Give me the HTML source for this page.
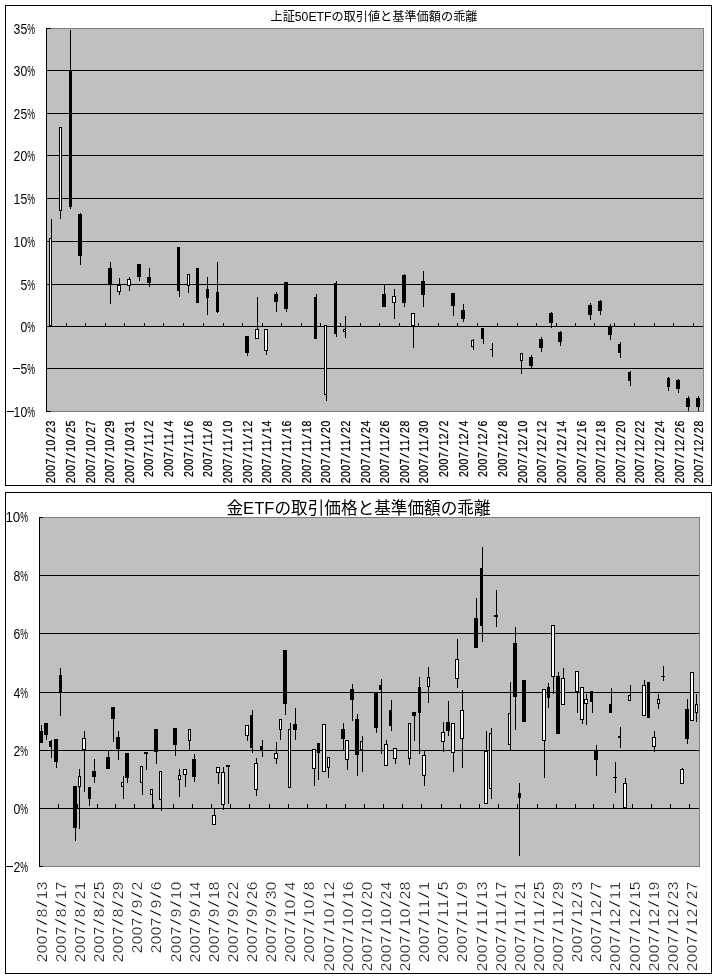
<!DOCTYPE html>
<html lang="ja"><head><meta charset="utf-8"><title>ETF charts</title>
<style>
html,body{margin:0;padding:0;background:#fff;}
body{width:717px;height:978px;overflow:hidden;font-family:"Liberation Sans",sans-serif;}
svg{display:block;}
svg text{font-family:"Liberation Sans",sans-serif;fill:#000;}
</style></head><body>
<svg width="717" height="978" viewBox="0 0 717 978">
<g shape-rendering="crispEdges">
<rect x="5" y="5" width="707" height="481" fill="#000"/>
<rect x="6" y="6" width="705" height="479" fill="#fff"/>
<rect x="46" y="28" width="658" height="384" fill="#808080"/>
<rect x="47" y="29" width="656" height="382" fill="#c0c0c0"/>
<rect x="46" y="70" width="657" height="1" fill="#000"/>
<rect x="46" y="113" width="657" height="1" fill="#000"/>
<rect x="46" y="155" width="657" height="1" fill="#000"/>
<rect x="46" y="198" width="657" height="1" fill="#000"/>
<rect x="46" y="241" width="657" height="1" fill="#000"/>
<rect x="46" y="284" width="657" height="1" fill="#000"/>
<rect x="46" y="326" width="657" height="1" fill="#000"/>
<rect x="46" y="368" width="657" height="1" fill="#000"/>
<rect x="46" y="28" width="1" height="384" fill="#000"/>
<rect x="46" y="28" width="5" height="1" fill="#000"/>
<rect x="46" y="411" width="5" height="1" fill="#000"/>
<rect x="66" y="323" width="1" height="3" fill="#000"/>
<rect x="85" y="323" width="1" height="3" fill="#000"/>
<rect x="105" y="323" width="1" height="3" fill="#000"/>
<rect x="124" y="323" width="1" height="3" fill="#000"/>
<rect x="144" y="323" width="1" height="3" fill="#000"/>
<rect x="163" y="323" width="1" height="3" fill="#000"/>
<rect x="183" y="323" width="1" height="3" fill="#000"/>
<rect x="203" y="323" width="1" height="3" fill="#000"/>
<rect x="223" y="323" width="1" height="3" fill="#000"/>
<rect x="242" y="323" width="1" height="3" fill="#000"/>
<rect x="262" y="323" width="1" height="3" fill="#000"/>
<rect x="281" y="323" width="1" height="3" fill="#000"/>
<rect x="301" y="323" width="1" height="3" fill="#000"/>
<rect x="320" y="323" width="1" height="3" fill="#000"/>
<rect x="340" y="323" width="1" height="3" fill="#000"/>
<rect x="360" y="323" width="1" height="3" fill="#000"/>
<rect x="379" y="323" width="1" height="3" fill="#000"/>
<rect x="399" y="323" width="1" height="3" fill="#000"/>
<rect x="418" y="323" width="1" height="3" fill="#000"/>
<rect x="438" y="323" width="1" height="3" fill="#000"/>
<rect x="457" y="323" width="1" height="3" fill="#000"/>
<rect x="477" y="323" width="1" height="3" fill="#000"/>
<rect x="497" y="323" width="1" height="3" fill="#000"/>
<rect x="517" y="323" width="1" height="3" fill="#000"/>
<rect x="536" y="323" width="1" height="3" fill="#000"/>
<rect x="556" y="323" width="1" height="3" fill="#000"/>
<rect x="575" y="323" width="1" height="3" fill="#000"/>
<rect x="594" y="323" width="1" height="3" fill="#000"/>
<rect x="614" y="323" width="1" height="3" fill="#000"/>
<rect x="634" y="323" width="1" height="3" fill="#000"/>
<rect x="654" y="323" width="1" height="3" fill="#000"/>
<rect x="673" y="323" width="1" height="3" fill="#000"/>
<rect x="693" y="323" width="1" height="3" fill="#000"/>
<rect x="51" y="219" width="1" height="107" fill="#000"/>
<rect x="49" y="238" width="3" height="88" fill="#000"/>
<rect x="50" y="239" width="1" height="86" fill="#fff"/>
<rect x="60" y="127" width="1" height="92" fill="#000"/>
<rect x="59" y="127" width="3" height="84" fill="#000"/>
<rect x="60" y="128" width="1" height="82" fill="#fff"/>
<rect x="70" y="30" width="1" height="179" fill="#000"/>
<rect x="69" y="70" width="3" height="137" fill="#000"/>
<rect x="80" y="213" width="1" height="52" fill="#000"/>
<rect x="78" y="214" width="4" height="42" fill="#000"/>
<rect x="110" y="262" width="1" height="42" fill="#000"/>
<rect x="108" y="268" width="4" height="16" fill="#000"/>
<rect x="119" y="278" width="1" height="17" fill="#000"/>
<rect x="117" y="285" width="4" height="7" fill="#000"/>
<rect x="118" y="286" width="2" height="5" fill="#fff"/>
<rect x="129" y="277" width="1" height="14" fill="#000"/>
<rect x="127" y="279" width="4" height="7" fill="#000"/>
<rect x="128" y="280" width="2" height="5" fill="#fff"/>
<rect x="139" y="264" width="1" height="17" fill="#000"/>
<rect x="137" y="264" width="4" height="13" fill="#000"/>
<rect x="149" y="268" width="1" height="19" fill="#000"/>
<rect x="147" y="277" width="4" height="6" fill="#000"/>
<rect x="179" y="247" width="1" height="50" fill="#000"/>
<rect x="177" y="247" width="3" height="44" fill="#000"/>
<rect x="188" y="274" width="1" height="19" fill="#000"/>
<rect x="187" y="274" width="3" height="12" fill="#000"/>
<rect x="188" y="275" width="1" height="10" fill="#fff"/>
<rect x="197" y="268" width="1" height="35" fill="#000"/>
<rect x="196" y="268" width="3" height="35" fill="#000"/>
<rect x="207" y="277" width="1" height="38" fill="#000"/>
<rect x="206" y="289" width="3" height="9" fill="#000"/>
<rect x="217" y="262" width="1" height="51" fill="#000"/>
<rect x="216" y="292" width="3" height="20" fill="#000"/>
<rect x="247" y="336" width="1" height="20" fill="#000"/>
<rect x="245" y="336" width="4" height="17" fill="#000"/>
<rect x="257" y="297" width="1" height="41" fill="#000"/>
<rect x="255" y="329" width="4" height="10" fill="#000"/>
<rect x="256" y="330" width="2" height="8" fill="#fff"/>
<rect x="266" y="329" width="1" height="26" fill="#000"/>
<rect x="264" y="329" width="4" height="22" fill="#000"/>
<rect x="265" y="330" width="2" height="20" fill="#fff"/>
<rect x="276" y="292" width="1" height="20" fill="#000"/>
<rect x="274" y="294" width="4" height="8" fill="#000"/>
<rect x="286" y="282" width="1" height="30" fill="#000"/>
<rect x="284" y="282" width="4" height="27" fill="#000"/>
<rect x="316" y="294" width="1" height="44" fill="#000"/>
<rect x="314" y="297" width="3" height="42" fill="#000"/>
<rect x="326" y="325" width="1" height="76" fill="#000"/>
<rect x="324" y="325" width="3" height="70" fill="#000"/>
<rect x="325" y="326" width="1" height="68" fill="#fff"/>
<rect x="336" y="281" width="1" height="56" fill="#000"/>
<rect x="334" y="283" width="3" height="51" fill="#000"/>
<rect x="345" y="316" width="1" height="22" fill="#000"/>
<rect x="343" y="329" width="3" height="3" fill="#000"/>
<rect x="344" y="330" width="1" height="1" fill="#fff"/>
<rect x="384" y="284" width="1" height="23" fill="#000"/>
<rect x="382" y="294" width="4" height="13" fill="#000"/>
<rect x="394" y="289" width="1" height="30" fill="#000"/>
<rect x="392" y="296" width="4" height="7" fill="#000"/>
<rect x="393" y="297" width="2" height="5" fill="#fff"/>
<rect x="404" y="274" width="1" height="33" fill="#000"/>
<rect x="402" y="275" width="4" height="28" fill="#000"/>
<rect x="413" y="313" width="1" height="35" fill="#000"/>
<rect x="411" y="313" width="4" height="13" fill="#000"/>
<rect x="412" y="314" width="2" height="11" fill="#fff"/>
<rect x="423" y="271" width="1" height="36" fill="#000"/>
<rect x="421" y="281" width="4" height="14" fill="#000"/>
<rect x="453" y="293" width="1" height="23" fill="#000"/>
<rect x="451" y="293" width="4" height="13" fill="#000"/>
<rect x="463" y="304" width="1" height="18" fill="#000"/>
<rect x="461" y="310" width="4" height="9" fill="#000"/>
<rect x="473" y="339" width="1" height="11" fill="#000"/>
<rect x="471" y="340" width="3" height="7" fill="#000"/>
<rect x="472" y="341" width="1" height="5" fill="#fff"/>
<rect x="483" y="328" width="1" height="16" fill="#000"/>
<rect x="481" y="328" width="3" height="11" fill="#000"/>
<rect x="492" y="343" width="1" height="14" fill="#000"/>
<rect x="490" y="349" width="3" height="1" fill="#000"/>
<rect x="521" y="353" width="1" height="21" fill="#000"/>
<rect x="520" y="353" width="3" height="8" fill="#000"/>
<rect x="521" y="354" width="1" height="6" fill="#fff"/>
<rect x="531" y="355" width="1" height="13" fill="#000"/>
<rect x="529" y="357" width="4" height="9" fill="#000"/>
<rect x="541" y="337" width="1" height="15" fill="#000"/>
<rect x="539" y="339" width="4" height="9" fill="#000"/>
<rect x="551" y="312" width="1" height="16" fill="#000"/>
<rect x="549" y="313" width="4" height="10" fill="#000"/>
<rect x="560" y="331" width="1" height="15" fill="#000"/>
<rect x="558" y="332" width="4" height="10" fill="#000"/>
<rect x="590" y="303" width="1" height="17" fill="#000"/>
<rect x="588" y="305" width="4" height="10" fill="#000"/>
<rect x="600" y="300" width="1" height="15" fill="#000"/>
<rect x="598" y="301" width="4" height="10" fill="#000"/>
<rect x="610" y="324" width="1" height="16" fill="#000"/>
<rect x="608" y="327" width="4" height="8" fill="#000"/>
<rect x="620" y="342" width="1" height="16" fill="#000"/>
<rect x="618" y="344" width="3" height="9" fill="#000"/>
<rect x="630" y="371" width="1" height="15" fill="#000"/>
<rect x="628" y="372" width="3" height="9" fill="#000"/>
<rect x="668" y="377" width="1" height="14" fill="#000"/>
<rect x="667" y="378" width="3" height="9" fill="#000"/>
<rect x="678" y="379" width="1" height="14" fill="#000"/>
<rect x="676" y="380" width="4" height="9" fill="#000"/>
<rect x="688" y="396" width="1" height="15" fill="#000"/>
<rect x="686" y="398" width="4" height="9" fill="#000"/>
<rect x="698" y="396" width="1" height="15" fill="#000"/>
<rect x="696" y="398" width="4" height="9" fill="#000"/>
<rect x="5" y="492" width="707" height="482" fill="#000"/>
<rect x="6" y="493" width="705" height="480" fill="#fff"/>
<rect x="39" y="517" width="661" height="350" fill="#808080"/>
<rect x="40" y="518" width="659" height="348" fill="#c0c0c0"/>
<rect x="39" y="575" width="660" height="1" fill="#000"/>
<rect x="39" y="633" width="660" height="1" fill="#000"/>
<rect x="39" y="692" width="660" height="1" fill="#000"/>
<rect x="39" y="750" width="660" height="1" fill="#000"/>
<rect x="39" y="808" width="660" height="1" fill="#000"/>
<rect x="39" y="517" width="1" height="350" fill="#000"/>
<rect x="39" y="517" width="4" height="1" fill="#000"/>
<rect x="39" y="866" width="4" height="1" fill="#000"/>
<rect x="58" y="804" width="1" height="4" fill="#000"/>
<rect x="77" y="804" width="1" height="4" fill="#000"/>
<rect x="97" y="804" width="1" height="4" fill="#000"/>
<rect x="115" y="804" width="1" height="4" fill="#000"/>
<rect x="134" y="804" width="1" height="4" fill="#000"/>
<rect x="153" y="804" width="1" height="4" fill="#000"/>
<rect x="173" y="804" width="1" height="4" fill="#000"/>
<rect x="192" y="804" width="1" height="4" fill="#000"/>
<rect x="211" y="804" width="1" height="4" fill="#000"/>
<rect x="230" y="804" width="1" height="4" fill="#000"/>
<rect x="249" y="804" width="1" height="4" fill="#000"/>
<rect x="269" y="804" width="1" height="4" fill="#000"/>
<rect x="288" y="804" width="1" height="4" fill="#000"/>
<rect x="307" y="804" width="1" height="4" fill="#000"/>
<rect x="326" y="804" width="1" height="4" fill="#000"/>
<rect x="345" y="804" width="1" height="4" fill="#000"/>
<rect x="364" y="804" width="1" height="4" fill="#000"/>
<rect x="383" y="804" width="1" height="4" fill="#000"/>
<rect x="402" y="804" width="1" height="4" fill="#000"/>
<rect x="421" y="804" width="1" height="4" fill="#000"/>
<rect x="441" y="804" width="1" height="4" fill="#000"/>
<rect x="460" y="804" width="1" height="4" fill="#000"/>
<rect x="479" y="804" width="1" height="4" fill="#000"/>
<rect x="498" y="804" width="1" height="4" fill="#000"/>
<rect x="517" y="804" width="1" height="4" fill="#000"/>
<rect x="537" y="804" width="1" height="4" fill="#000"/>
<rect x="556" y="804" width="1" height="4" fill="#000"/>
<rect x="575" y="804" width="1" height="4" fill="#000"/>
<rect x="593" y="804" width="1" height="4" fill="#000"/>
<rect x="613" y="804" width="1" height="4" fill="#000"/>
<rect x="632" y="804" width="1" height="4" fill="#000"/>
<rect x="651" y="804" width="1" height="4" fill="#000"/>
<rect x="670" y="804" width="1" height="4" fill="#000"/>
<rect x="689" y="804" width="1" height="4" fill="#000"/>
<rect x="41" y="725" width="1" height="17" fill="#000"/>
<rect x="40" y="731" width="3" height="12" fill="#000"/>
<rect x="46" y="723" width="1" height="17" fill="#000"/>
<rect x="44" y="723" width="4" height="12" fill="#000"/>
<rect x="51" y="740" width="1" height="18" fill="#000"/>
<rect x="49" y="741" width="3" height="6" fill="#000"/>
<rect x="56" y="739" width="1" height="29" fill="#000"/>
<rect x="54" y="739" width="4" height="23" fill="#000"/>
<rect x="60" y="668" width="1" height="48" fill="#000"/>
<rect x="59" y="675" width="3" height="17" fill="#000"/>
<rect x="75" y="786" width="1" height="55" fill="#000"/>
<rect x="73" y="786" width="4" height="42" fill="#000"/>
<rect x="79" y="769" width="1" height="60" fill="#000"/>
<rect x="78" y="776" width="3" height="11" fill="#000"/>
<rect x="79" y="777" width="1" height="9" fill="#fff"/>
<rect x="84" y="731" width="1" height="61" fill="#000"/>
<rect x="82" y="738" width="4" height="12" fill="#000"/>
<rect x="83" y="739" width="2" height="10" fill="#fff"/>
<rect x="89" y="787" width="1" height="19" fill="#000"/>
<rect x="88" y="787" width="3" height="12" fill="#000"/>
<rect x="94" y="759" width="1" height="24" fill="#000"/>
<rect x="92" y="771" width="4" height="6" fill="#000"/>
<rect x="108" y="750" width="1" height="18" fill="#000"/>
<rect x="106" y="757" width="4" height="12" fill="#000"/>
<rect x="113" y="707" width="1" height="35" fill="#000"/>
<rect x="111" y="707" width="4" height="12" fill="#000"/>
<rect x="118" y="731" width="1" height="29" fill="#000"/>
<rect x="116" y="737" width="4" height="12" fill="#000"/>
<rect x="123" y="776" width="1" height="23" fill="#000"/>
<rect x="121" y="782" width="3" height="5" fill="#000"/>
<rect x="122" y="783" width="1" height="3" fill="#fff"/>
<rect x="127" y="753" width="1" height="30" fill="#000"/>
<rect x="125" y="753" width="4" height="25" fill="#000"/>
<rect x="142" y="766" width="1" height="29" fill="#000"/>
<rect x="140" y="766" width="3" height="17" fill="#000"/>
<rect x="141" y="767" width="1" height="15" fill="#fff"/>
<rect x="146" y="752" width="1" height="18" fill="#000"/>
<rect x="144" y="752" width="4" height="2" fill="#000"/>
<rect x="152" y="789" width="1" height="19" fill="#000"/>
<rect x="150" y="789" width="3" height="6" fill="#000"/>
<rect x="151" y="790" width="1" height="4" fill="#fff"/>
<rect x="156" y="729" width="1" height="35" fill="#000"/>
<rect x="154" y="729" width="4" height="23" fill="#000"/>
<rect x="161" y="771" width="1" height="40" fill="#000"/>
<rect x="159" y="771" width="3" height="29" fill="#000"/>
<rect x="160" y="772" width="1" height="27" fill="#fff"/>
<rect x="175" y="728" width="1" height="28" fill="#000"/>
<rect x="173" y="728" width="4" height="17" fill="#000"/>
<rect x="179" y="769" width="1" height="28" fill="#000"/>
<rect x="178" y="775" width="3" height="5" fill="#000"/>
<rect x="179" y="776" width="1" height="3" fill="#fff"/>
<rect x="185" y="769" width="1" height="18" fill="#000"/>
<rect x="183" y="769" width="4" height="6" fill="#000"/>
<rect x="184" y="770" width="2" height="4" fill="#fff"/>
<rect x="189" y="729" width="1" height="21" fill="#000"/>
<rect x="188" y="729" width="3" height="12" fill="#000"/>
<rect x="189" y="730" width="1" height="10" fill="#fff"/>
<rect x="194" y="754" width="1" height="28" fill="#000"/>
<rect x="192" y="759" width="4" height="18" fill="#000"/>
<rect x="214" y="808" width="1" height="7" fill="#000"/>
<rect x="212" y="815" width="4" height="10" fill="#000"/>
<rect x="213" y="816" width="2" height="8" fill="#fff"/>
<rect x="218" y="767" width="1" height="17" fill="#000"/>
<rect x="216" y="767" width="4" height="6" fill="#000"/>
<rect x="217" y="768" width="2" height="4" fill="#fff"/>
<rect x="223" y="767" width="1" height="43" fill="#000"/>
<rect x="221" y="772" width="4" height="33" fill="#000"/>
<rect x="222" y="773" width="2" height="31" fill="#fff"/>
<rect x="228" y="765" width="1" height="39" fill="#000"/>
<rect x="226" y="765" width="4" height="2" fill="#000"/>
<rect x="247" y="725" width="1" height="16" fill="#000"/>
<rect x="245" y="725" width="4" height="11" fill="#000"/>
<rect x="246" y="726" width="2" height="9" fill="#fff"/>
<rect x="252" y="710" width="1" height="43" fill="#000"/>
<rect x="250" y="715" width="3" height="33" fill="#000"/>
<rect x="256" y="758" width="1" height="38" fill="#000"/>
<rect x="254" y="763" width="4" height="27" fill="#000"/>
<rect x="255" y="764" width="2" height="25" fill="#fff"/>
<rect x="262" y="740" width="1" height="17" fill="#000"/>
<rect x="260" y="746" width="3" height="4" fill="#000"/>
<rect x="276" y="742" width="1" height="22" fill="#000"/>
<rect x="274" y="753" width="4" height="6" fill="#000"/>
<rect x="275" y="754" width="2" height="4" fill="#fff"/>
<rect x="280" y="719" width="1" height="21" fill="#000"/>
<rect x="279" y="719" width="3" height="11" fill="#000"/>
<rect x="280" y="720" width="1" height="9" fill="#fff"/>
<rect x="285" y="650" width="1" height="65" fill="#000"/>
<rect x="283" y="650" width="4" height="54" fill="#000"/>
<rect x="290" y="723" width="1" height="64" fill="#000"/>
<rect x="288" y="729" width="3" height="59" fill="#000"/>
<rect x="289" y="730" width="1" height="57" fill="#fff"/>
<rect x="295" y="708" width="1" height="32" fill="#000"/>
<rect x="293" y="724" width="4" height="6" fill="#000"/>
<rect x="314" y="749" width="1" height="37" fill="#000"/>
<rect x="312" y="749" width="4" height="20" fill="#000"/>
<rect x="313" y="750" width="2" height="18" fill="#fff"/>
<rect x="318" y="743" width="1" height="37" fill="#000"/>
<rect x="317" y="743" width="3" height="10" fill="#000"/>
<rect x="324" y="724" width="1" height="47" fill="#000"/>
<rect x="322" y="724" width="4" height="48" fill="#000"/>
<rect x="323" y="725" width="2" height="46" fill="#fff"/>
<rect x="328" y="757" width="1" height="21" fill="#000"/>
<rect x="327" y="757" width="3" height="11" fill="#000"/>
<rect x="328" y="758" width="1" height="9" fill="#fff"/>
<rect x="343" y="723" width="1" height="27" fill="#000"/>
<rect x="341" y="729" width="4" height="10" fill="#000"/>
<rect x="347" y="740" width="1" height="30" fill="#000"/>
<rect x="345" y="740" width="4" height="20" fill="#000"/>
<rect x="346" y="741" width="2" height="18" fill="#fff"/>
<rect x="352" y="684" width="1" height="37" fill="#000"/>
<rect x="350" y="689" width="4" height="11" fill="#000"/>
<rect x="357" y="714" width="1" height="62" fill="#000"/>
<rect x="355" y="719" width="4" height="36" fill="#000"/>
<rect x="362" y="736" width="1" height="36" fill="#000"/>
<rect x="360" y="741" width="3" height="9" fill="#000"/>
<rect x="361" y="742" width="1" height="7" fill="#fff"/>
<rect x="376" y="693" width="1" height="40" fill="#000"/>
<rect x="374" y="693" width="4" height="35" fill="#000"/>
<rect x="381" y="679" width="1" height="75" fill="#000"/>
<rect x="379" y="685" width="3" height="5" fill="#000"/>
<rect x="386" y="740" width="1" height="25" fill="#000"/>
<rect x="384" y="744" width="4" height="22" fill="#000"/>
<rect x="385" y="745" width="2" height="20" fill="#fff"/>
<rect x="391" y="700" width="1" height="31" fill="#000"/>
<rect x="389" y="710" width="3" height="16" fill="#000"/>
<rect x="395" y="748" width="1" height="16" fill="#000"/>
<rect x="393" y="748" width="4" height="11" fill="#000"/>
<rect x="394" y="749" width="2" height="9" fill="#fff"/>
<rect x="409" y="723" width="1" height="42" fill="#000"/>
<rect x="408" y="723" width="3" height="36" fill="#000"/>
<rect x="409" y="724" width="1" height="34" fill="#fff"/>
<rect x="414" y="712" width="1" height="29" fill="#000"/>
<rect x="412" y="712" width="4" height="4" fill="#000"/>
<rect x="419" y="677" width="1" height="77" fill="#000"/>
<rect x="418" y="687" width="3" height="26" fill="#000"/>
<rect x="424" y="750" width="1" height="36" fill="#000"/>
<rect x="422" y="755" width="4" height="21" fill="#000"/>
<rect x="423" y="756" width="2" height="19" fill="#fff"/>
<rect x="428" y="667" width="1" height="36" fill="#000"/>
<rect x="427" y="677" width="3" height="10" fill="#000"/>
<rect x="428" y="678" width="1" height="8" fill="#fff"/>
<rect x="443" y="722" width="1" height="30" fill="#000"/>
<rect x="441" y="732" width="4" height="10" fill="#000"/>
<rect x="442" y="733" width="2" height="8" fill="#fff"/>
<rect x="448" y="701" width="1" height="35" fill="#000"/>
<rect x="446" y="722" width="4" height="9" fill="#000"/>
<rect x="453" y="723" width="1" height="49" fill="#000"/>
<rect x="451" y="723" width="4" height="30" fill="#000"/>
<rect x="452" y="724" width="2" height="28" fill="#fff"/>
<rect x="457" y="639" width="1" height="49" fill="#000"/>
<rect x="455" y="659" width="4" height="20" fill="#000"/>
<rect x="456" y="660" width="2" height="18" fill="#fff"/>
<rect x="462" y="690" width="1" height="78" fill="#000"/>
<rect x="460" y="710" width="4" height="29" fill="#000"/>
<rect x="461" y="711" width="2" height="27" fill="#fff"/>
<rect x="476" y="598" width="1" height="49" fill="#000"/>
<rect x="474" y="618" width="4" height="30" fill="#000"/>
<rect x="482" y="547" width="1" height="95" fill="#000"/>
<rect x="480" y="568" width="3" height="58" fill="#000"/>
<rect x="486" y="731" width="1" height="72" fill="#000"/>
<rect x="484" y="751" width="4" height="53" fill="#000"/>
<rect x="485" y="752" width="2" height="51" fill="#fff"/>
<rect x="491" y="728" width="1" height="71" fill="#000"/>
<rect x="489" y="733" width="3" height="56" fill="#000"/>
<rect x="490" y="734" width="1" height="54" fill="#fff"/>
<rect x="496" y="590" width="1" height="37" fill="#000"/>
<rect x="494" y="615" width="4" height="2" fill="#000"/>
<rect x="510" y="682" width="1" height="68" fill="#000"/>
<rect x="508" y="713" width="3" height="32" fill="#000"/>
<rect x="509" y="714" width="1" height="30" fill="#fff"/>
<rect x="515" y="627" width="1" height="103" fill="#000"/>
<rect x="513" y="643" width="4" height="54" fill="#000"/>
<rect x="519" y="783" width="1" height="73" fill="#000"/>
<rect x="518" y="793" width="3" height="5" fill="#000"/>
<rect x="524" y="680" width="1" height="41" fill="#000"/>
<rect x="522" y="680" width="4" height="42" fill="#000"/>
<rect x="544" y="689" width="1" height="89" fill="#000"/>
<rect x="542" y="689" width="4" height="52" fill="#000"/>
<rect x="543" y="690" width="2" height="50" fill="#fff"/>
<rect x="548" y="683" width="1" height="25" fill="#000"/>
<rect x="547" y="687" width="3" height="11" fill="#000"/>
<rect x="553" y="625" width="1" height="69" fill="#000"/>
<rect x="551" y="625" width="4" height="52" fill="#000"/>
<rect x="552" y="626" width="2" height="50" fill="#fff"/>
<rect x="558" y="672" width="1" height="61" fill="#000"/>
<rect x="556" y="676" width="4" height="58" fill="#000"/>
<rect x="563" y="668" width="1" height="36" fill="#000"/>
<rect x="561" y="678" width="4" height="27" fill="#000"/>
<rect x="562" y="679" width="2" height="25" fill="#fff"/>
<rect x="577" y="671" width="1" height="42" fill="#000"/>
<rect x="575" y="671" width="4" height="21" fill="#000"/>
<rect x="576" y="672" width="2" height="19" fill="#fff"/>
<rect x="582" y="687" width="1" height="37" fill="#000"/>
<rect x="580" y="687" width="4" height="33" fill="#000"/>
<rect x="581" y="688" width="2" height="31" fill="#fff"/>
<rect x="586" y="694" width="1" height="31" fill="#000"/>
<rect x="584" y="699" width="4" height="5" fill="#000"/>
<rect x="585" y="700" width="2" height="3" fill="#fff"/>
<rect x="592" y="691" width="1" height="22" fill="#000"/>
<rect x="590" y="691" width="3" height="11" fill="#000"/>
<rect x="596" y="745" width="1" height="31" fill="#000"/>
<rect x="594" y="751" width="4" height="9" fill="#000"/>
<rect x="611" y="688" width="1" height="24" fill="#000"/>
<rect x="609" y="704" width="3" height="9" fill="#000"/>
<rect x="615" y="762" width="1" height="31" fill="#000"/>
<rect x="613" y="777" width="4" height="1" fill="#000"/>
<rect x="620" y="727" width="1" height="21" fill="#000"/>
<rect x="618" y="736" width="3" height="2" fill="#000"/>
<rect x="625" y="778" width="1" height="30" fill="#000"/>
<rect x="623" y="783" width="4" height="25" fill="#000"/>
<rect x="624" y="784" width="2" height="23" fill="#fff"/>
<rect x="630" y="685" width="1" height="15" fill="#000"/>
<rect x="628" y="695" width="3" height="6" fill="#000"/>
<rect x="629" y="696" width="1" height="4" fill="#fff"/>
<rect x="644" y="680" width="1" height="35" fill="#000"/>
<rect x="642" y="685" width="4" height="31" fill="#000"/>
<rect x="643" y="686" width="2" height="29" fill="#fff"/>
<rect x="648" y="682" width="1" height="35" fill="#000"/>
<rect x="647" y="682" width="3" height="36" fill="#000"/>
<rect x="654" y="731" width="1" height="21" fill="#000"/>
<rect x="652" y="737" width="4" height="10" fill="#000"/>
<rect x="653" y="738" width="2" height="8" fill="#fff"/>
<rect x="658" y="694" width="1" height="15" fill="#000"/>
<rect x="657" y="699" width="3" height="5" fill="#000"/>
<rect x="658" y="700" width="1" height="3" fill="#fff"/>
<rect x="663" y="666" width="1" height="15" fill="#000"/>
<rect x="661" y="676" width="4" height="1" fill="#000"/>
<rect x="682" y="768" width="1" height="15" fill="#000"/>
<rect x="680" y="769" width="4" height="15" fill="#000"/>
<rect x="681" y="770" width="2" height="13" fill="#fff"/>
<rect x="687" y="699" width="1" height="45" fill="#000"/>
<rect x="685" y="709" width="4" height="30" fill="#000"/>
<rect x="692" y="672" width="1" height="49" fill="#000"/>
<rect x="690" y="672" width="4" height="49" fill="#000"/>
<rect x="691" y="673" width="2" height="47" fill="#fff"/>
<rect x="696" y="694" width="1" height="28" fill="#000"/>
<rect x="695" y="704" width="3" height="9" fill="#000"/>
<rect x="696" y="705" width="1" height="7" fill="#fff"/>
<rect x="13.4" y="368" width="7" height="1" fill="#000"/>
<rect x="6.6" y="411" width="7" height="1" fill="#000"/>
<rect x="6.4" y="866" width="7" height="1" fill="#000"/>
</g>
<g opacity="0.999">
<text x="35" y="34" text-anchor="end" font-size="14" textLength="7.8" lengthAdjust="spacingAndGlyphs">%</text>
<text x="27.2" y="34" text-anchor="end" font-size="14" textLength="13.6" lengthAdjust="spacingAndGlyphs">35</text>
<text x="35" y="76" text-anchor="end" font-size="14" textLength="7.8" lengthAdjust="spacingAndGlyphs">%</text>
<text x="27.2" y="76" text-anchor="end" font-size="14" textLength="13.6" lengthAdjust="spacingAndGlyphs">30</text>
<text x="35" y="119" text-anchor="end" font-size="14" textLength="7.8" lengthAdjust="spacingAndGlyphs">%</text>
<text x="27.2" y="119" text-anchor="end" font-size="14" textLength="13.6" lengthAdjust="spacingAndGlyphs">25</text>
<text x="35" y="161" text-anchor="end" font-size="14" textLength="7.8" lengthAdjust="spacingAndGlyphs">%</text>
<text x="27.2" y="161" text-anchor="end" font-size="14" textLength="13.6" lengthAdjust="spacingAndGlyphs">20</text>
<text x="35" y="204" text-anchor="end" font-size="14" textLength="7.8" lengthAdjust="spacingAndGlyphs">%</text>
<text x="27.2" y="204" text-anchor="end" font-size="14" textLength="13.6" lengthAdjust="spacingAndGlyphs">15</text>
<text x="35" y="247" text-anchor="end" font-size="14" textLength="7.8" lengthAdjust="spacingAndGlyphs">%</text>
<text x="27.2" y="247" text-anchor="end" font-size="14" textLength="13.6" lengthAdjust="spacingAndGlyphs">10</text>
<text x="35" y="290" text-anchor="end" font-size="14" textLength="7.8" lengthAdjust="spacingAndGlyphs">%</text>
<text x="27.2" y="290" text-anchor="end" font-size="14" textLength="6.8" lengthAdjust="spacingAndGlyphs">5</text>
<text x="35" y="332" text-anchor="end" font-size="14" textLength="7.8" lengthAdjust="spacingAndGlyphs">%</text>
<text x="27.2" y="332" text-anchor="end" font-size="14" textLength="6.8" lengthAdjust="spacingAndGlyphs">0</text>
<text x="35" y="374" text-anchor="end" font-size="14" textLength="7.8" lengthAdjust="spacingAndGlyphs">%</text>
<text x="27.2" y="374" text-anchor="end" font-size="14" textLength="6.8" lengthAdjust="spacingAndGlyphs">5</text>
<text x="35" y="417" text-anchor="end" font-size="14" textLength="7.8" lengthAdjust="spacingAndGlyphs">%</text>
<text x="27.2" y="417" text-anchor="end" font-size="14" textLength="13.6" lengthAdjust="spacingAndGlyphs">10</text>
<text x="28" y="522" text-anchor="end" font-size="14" textLength="7.8" lengthAdjust="spacingAndGlyphs">%</text>
<text x="20.2" y="522" text-anchor="end" font-size="14" textLength="14.8" lengthAdjust="spacingAndGlyphs">10</text>
<text x="28" y="581" text-anchor="end" font-size="14" textLength="7.8" lengthAdjust="spacingAndGlyphs">%</text>
<text x="20.2" y="581" text-anchor="end" font-size="14" textLength="6.8" lengthAdjust="spacingAndGlyphs">8</text>
<text x="28" y="639" text-anchor="end" font-size="14" textLength="7.8" lengthAdjust="spacingAndGlyphs">%</text>
<text x="20.2" y="639" text-anchor="end" font-size="14" textLength="6.8" lengthAdjust="spacingAndGlyphs">6</text>
<text x="28" y="698" text-anchor="end" font-size="14" textLength="7.8" lengthAdjust="spacingAndGlyphs">%</text>
<text x="20.2" y="698" text-anchor="end" font-size="14" textLength="6.8" lengthAdjust="spacingAndGlyphs">4</text>
<text x="28" y="756" text-anchor="end" font-size="14" textLength="7.8" lengthAdjust="spacingAndGlyphs">%</text>
<text x="20.2" y="756" text-anchor="end" font-size="14" textLength="6.8" lengthAdjust="spacingAndGlyphs">2</text>
<text x="28" y="814" text-anchor="end" font-size="14" textLength="7.8" lengthAdjust="spacingAndGlyphs">%</text>
<text x="20.2" y="814" text-anchor="end" font-size="14" textLength="6.8" lengthAdjust="spacingAndGlyphs">0</text>
<text x="28" y="872" text-anchor="end" font-size="14" textLength="7.8" lengthAdjust="spacingAndGlyphs">%</text>
<text x="20.2" y="872" text-anchor="end" font-size="14" textLength="6.8" lengthAdjust="spacingAndGlyphs">2</text>
<text transform="translate(55.2 0) rotate(-90) scale(0.78 1)" y="0" text-anchor="middle" font-size="13.4" stroke="#000" stroke-width="0.3"><tspan x="-615.9 -607.82 -599.74 -591.67">2007</tspan><tspan x="-583.59" textLength="7.05" lengthAdjust="spacingAndGlyphs" stroke="#fff" stroke-width="0.15">/</tspan><tspan x="-575.51 -567.44">10</tspan><tspan x="-559.36" textLength="7.05" lengthAdjust="spacingAndGlyphs" stroke="#fff" stroke-width="0.15">/</tspan><tspan x="-551.28 -543.21">23</tspan></text>
<text transform="translate(74.8 0) rotate(-90) scale(0.78 1)" y="0" text-anchor="middle" font-size="13.4" stroke="#000" stroke-width="0.3"><tspan x="-615.9 -607.82 -599.74 -591.67">2007</tspan><tspan x="-583.59" textLength="7.05" lengthAdjust="spacingAndGlyphs" stroke="#fff" stroke-width="0.15">/</tspan><tspan x="-575.51 -567.44">10</tspan><tspan x="-559.36" textLength="7.05" lengthAdjust="spacingAndGlyphs" stroke="#fff" stroke-width="0.15">/</tspan><tspan x="-551.28 -543.21">25</tspan></text>
<text transform="translate(94.5 0) rotate(-90) scale(0.78 1)" y="0" text-anchor="middle" font-size="13.4" stroke="#000" stroke-width="0.3"><tspan x="-615.9 -607.82 -599.74 -591.67">2007</tspan><tspan x="-583.59" textLength="7.05" lengthAdjust="spacingAndGlyphs" stroke="#fff" stroke-width="0.15">/</tspan><tspan x="-575.51 -567.44">10</tspan><tspan x="-559.36" textLength="7.05" lengthAdjust="spacingAndGlyphs" stroke="#fff" stroke-width="0.15">/</tspan><tspan x="-551.28 -543.21">27</tspan></text>
<text transform="translate(114.1 0) rotate(-90) scale(0.78 1)" y="0" text-anchor="middle" font-size="13.4" stroke="#000" stroke-width="0.3"><tspan x="-615.9 -607.82 -599.74 -591.67">2007</tspan><tspan x="-583.59" textLength="7.05" lengthAdjust="spacingAndGlyphs" stroke="#fff" stroke-width="0.15">/</tspan><tspan x="-575.51 -567.44">10</tspan><tspan x="-559.36" textLength="7.05" lengthAdjust="spacingAndGlyphs" stroke="#fff" stroke-width="0.15">/</tspan><tspan x="-551.28 -543.21">29</tspan></text>
<text transform="translate(133.8 0) rotate(-90) scale(0.78 1)" y="0" text-anchor="middle" font-size="13.4" stroke="#000" stroke-width="0.3"><tspan x="-615.9 -607.82 -599.74 -591.67">2007</tspan><tspan x="-583.59" textLength="7.05" lengthAdjust="spacingAndGlyphs" stroke="#fff" stroke-width="0.15">/</tspan><tspan x="-575.51 -567.44">10</tspan><tspan x="-559.36" textLength="7.05" lengthAdjust="spacingAndGlyphs" stroke="#fff" stroke-width="0.15">/</tspan><tspan x="-551.28 -543.21">31</tspan></text>
<text transform="translate(153.4 0) rotate(-90) scale(0.78 1)" y="0" text-anchor="middle" font-size="13.4" stroke="#000" stroke-width="0.3"><tspan x="-607.82 -599.74 -591.67 -583.59">2007</tspan><tspan x="-575.51" textLength="7.05" lengthAdjust="spacingAndGlyphs" stroke="#fff" stroke-width="0.15">/</tspan><tspan x="-567.44 -559.36">11</tspan><tspan x="-551.28" textLength="7.05" lengthAdjust="spacingAndGlyphs" stroke="#fff" stroke-width="0.15">/</tspan><tspan x="-543.21">2</tspan></text>
<text transform="translate(173.1 0) rotate(-90) scale(0.78 1)" y="0" text-anchor="middle" font-size="13.4" stroke="#000" stroke-width="0.3"><tspan x="-607.82 -599.74 -591.67 -583.59">2007</tspan><tspan x="-575.51" textLength="7.05" lengthAdjust="spacingAndGlyphs" stroke="#fff" stroke-width="0.15">/</tspan><tspan x="-567.44 -559.36">11</tspan><tspan x="-551.28" textLength="7.05" lengthAdjust="spacingAndGlyphs" stroke="#fff" stroke-width="0.15">/</tspan><tspan x="-543.21">4</tspan></text>
<text transform="translate(192.7 0) rotate(-90) scale(0.78 1)" y="0" text-anchor="middle" font-size="13.4" stroke="#000" stroke-width="0.3"><tspan x="-607.82 -599.74 -591.67 -583.59">2007</tspan><tspan x="-575.51" textLength="7.05" lengthAdjust="spacingAndGlyphs" stroke="#fff" stroke-width="0.15">/</tspan><tspan x="-567.44 -559.36">11</tspan><tspan x="-551.28" textLength="7.05" lengthAdjust="spacingAndGlyphs" stroke="#fff" stroke-width="0.15">/</tspan><tspan x="-543.21">6</tspan></text>
<text transform="translate(212.3 0) rotate(-90) scale(0.78 1)" y="0" text-anchor="middle" font-size="13.4" stroke="#000" stroke-width="0.3"><tspan x="-607.82 -599.74 -591.67 -583.59">2007</tspan><tspan x="-575.51" textLength="7.05" lengthAdjust="spacingAndGlyphs" stroke="#fff" stroke-width="0.15">/</tspan><tspan x="-567.44 -559.36">11</tspan><tspan x="-551.28" textLength="7.05" lengthAdjust="spacingAndGlyphs" stroke="#fff" stroke-width="0.15">/</tspan><tspan x="-543.21">8</tspan></text>
<text transform="translate(232.0 0) rotate(-90) scale(0.78 1)" y="0" text-anchor="middle" font-size="13.4" stroke="#000" stroke-width="0.3"><tspan x="-615.9 -607.82 -599.74 -591.67">2007</tspan><tspan x="-583.59" textLength="7.05" lengthAdjust="spacingAndGlyphs" stroke="#fff" stroke-width="0.15">/</tspan><tspan x="-575.51 -567.44">11</tspan><tspan x="-559.36" textLength="7.05" lengthAdjust="spacingAndGlyphs" stroke="#fff" stroke-width="0.15">/</tspan><tspan x="-551.28 -543.21">10</tspan></text>
<text transform="translate(251.6 0) rotate(-90) scale(0.78 1)" y="0" text-anchor="middle" font-size="13.4" stroke="#000" stroke-width="0.3"><tspan x="-615.9 -607.82 -599.74 -591.67">2007</tspan><tspan x="-583.59" textLength="7.05" lengthAdjust="spacingAndGlyphs" stroke="#fff" stroke-width="0.15">/</tspan><tspan x="-575.51 -567.44">11</tspan><tspan x="-559.36" textLength="7.05" lengthAdjust="spacingAndGlyphs" stroke="#fff" stroke-width="0.15">/</tspan><tspan x="-551.28 -543.21">12</tspan></text>
<text transform="translate(271.3 0) rotate(-90) scale(0.78 1)" y="0" text-anchor="middle" font-size="13.4" stroke="#000" stroke-width="0.3"><tspan x="-615.9 -607.82 -599.74 -591.67">2007</tspan><tspan x="-583.59" textLength="7.05" lengthAdjust="spacingAndGlyphs" stroke="#fff" stroke-width="0.15">/</tspan><tspan x="-575.51 -567.44">11</tspan><tspan x="-559.36" textLength="7.05" lengthAdjust="spacingAndGlyphs" stroke="#fff" stroke-width="0.15">/</tspan><tspan x="-551.28 -543.21">14</tspan></text>
<text transform="translate(290.9 0) rotate(-90) scale(0.78 1)" y="0" text-anchor="middle" font-size="13.4" stroke="#000" stroke-width="0.3"><tspan x="-615.9 -607.82 -599.74 -591.67">2007</tspan><tspan x="-583.59" textLength="7.05" lengthAdjust="spacingAndGlyphs" stroke="#fff" stroke-width="0.15">/</tspan><tspan x="-575.51 -567.44">11</tspan><tspan x="-559.36" textLength="7.05" lengthAdjust="spacingAndGlyphs" stroke="#fff" stroke-width="0.15">/</tspan><tspan x="-551.28 -543.21">16</tspan></text>
<text transform="translate(310.5 0) rotate(-90) scale(0.78 1)" y="0" text-anchor="middle" font-size="13.4" stroke="#000" stroke-width="0.3"><tspan x="-615.9 -607.82 -599.74 -591.67">2007</tspan><tspan x="-583.59" textLength="7.05" lengthAdjust="spacingAndGlyphs" stroke="#fff" stroke-width="0.15">/</tspan><tspan x="-575.51 -567.44">11</tspan><tspan x="-559.36" textLength="7.05" lengthAdjust="spacingAndGlyphs" stroke="#fff" stroke-width="0.15">/</tspan><tspan x="-551.28 -543.21">18</tspan></text>
<text transform="translate(330.2 0) rotate(-90) scale(0.78 1)" y="0" text-anchor="middle" font-size="13.4" stroke="#000" stroke-width="0.3"><tspan x="-615.9 -607.82 -599.74 -591.67">2007</tspan><tspan x="-583.59" textLength="7.05" lengthAdjust="spacingAndGlyphs" stroke="#fff" stroke-width="0.15">/</tspan><tspan x="-575.51 -567.44">11</tspan><tspan x="-559.36" textLength="7.05" lengthAdjust="spacingAndGlyphs" stroke="#fff" stroke-width="0.15">/</tspan><tspan x="-551.28 -543.21">20</tspan></text>
<text transform="translate(349.8 0) rotate(-90) scale(0.78 1)" y="0" text-anchor="middle" font-size="13.4" stroke="#000" stroke-width="0.3"><tspan x="-615.9 -607.82 -599.74 -591.67">2007</tspan><tspan x="-583.59" textLength="7.05" lengthAdjust="spacingAndGlyphs" stroke="#fff" stroke-width="0.15">/</tspan><tspan x="-575.51 -567.44">11</tspan><tspan x="-559.36" textLength="7.05" lengthAdjust="spacingAndGlyphs" stroke="#fff" stroke-width="0.15">/</tspan><tspan x="-551.28 -543.21">22</tspan></text>
<text transform="translate(369.5 0) rotate(-90) scale(0.78 1)" y="0" text-anchor="middle" font-size="13.4" stroke="#000" stroke-width="0.3"><tspan x="-615.9 -607.82 -599.74 -591.67">2007</tspan><tspan x="-583.59" textLength="7.05" lengthAdjust="spacingAndGlyphs" stroke="#fff" stroke-width="0.15">/</tspan><tspan x="-575.51 -567.44">11</tspan><tspan x="-559.36" textLength="7.05" lengthAdjust="spacingAndGlyphs" stroke="#fff" stroke-width="0.15">/</tspan><tspan x="-551.28 -543.21">24</tspan></text>
<text transform="translate(389.1 0) rotate(-90) scale(0.78 1)" y="0" text-anchor="middle" font-size="13.4" stroke="#000" stroke-width="0.3"><tspan x="-615.9 -607.82 -599.74 -591.67">2007</tspan><tspan x="-583.59" textLength="7.05" lengthAdjust="spacingAndGlyphs" stroke="#fff" stroke-width="0.15">/</tspan><tspan x="-575.51 -567.44">11</tspan><tspan x="-559.36" textLength="7.05" lengthAdjust="spacingAndGlyphs" stroke="#fff" stroke-width="0.15">/</tspan><tspan x="-551.28 -543.21">26</tspan></text>
<text transform="translate(408.7 0) rotate(-90) scale(0.78 1)" y="0" text-anchor="middle" font-size="13.4" stroke="#000" stroke-width="0.3"><tspan x="-615.9 -607.82 -599.74 -591.67">2007</tspan><tspan x="-583.59" textLength="7.05" lengthAdjust="spacingAndGlyphs" stroke="#fff" stroke-width="0.15">/</tspan><tspan x="-575.51 -567.44">11</tspan><tspan x="-559.36" textLength="7.05" lengthAdjust="spacingAndGlyphs" stroke="#fff" stroke-width="0.15">/</tspan><tspan x="-551.28 -543.21">28</tspan></text>
<text transform="translate(428.4 0) rotate(-90) scale(0.78 1)" y="0" text-anchor="middle" font-size="13.4" stroke="#000" stroke-width="0.3"><tspan x="-615.9 -607.82 -599.74 -591.67">2007</tspan><tspan x="-583.59" textLength="7.05" lengthAdjust="spacingAndGlyphs" stroke="#fff" stroke-width="0.15">/</tspan><tspan x="-575.51 -567.44">11</tspan><tspan x="-559.36" textLength="7.05" lengthAdjust="spacingAndGlyphs" stroke="#fff" stroke-width="0.15">/</tspan><tspan x="-551.28 -543.21">30</tspan></text>
<text transform="translate(448.0 0) rotate(-90) scale(0.78 1)" y="0" text-anchor="middle" font-size="13.4" stroke="#000" stroke-width="0.3"><tspan x="-607.82 -599.74 -591.67 -583.59">2007</tspan><tspan x="-575.51" textLength="7.05" lengthAdjust="spacingAndGlyphs" stroke="#fff" stroke-width="0.15">/</tspan><tspan x="-567.44 -559.36">12</tspan><tspan x="-551.28" textLength="7.05" lengthAdjust="spacingAndGlyphs" stroke="#fff" stroke-width="0.15">/</tspan><tspan x="-543.21">2</tspan></text>
<text transform="translate(467.7 0) rotate(-90) scale(0.78 1)" y="0" text-anchor="middle" font-size="13.4" stroke="#000" stroke-width="0.3"><tspan x="-607.82 -599.74 -591.67 -583.59">2007</tspan><tspan x="-575.51" textLength="7.05" lengthAdjust="spacingAndGlyphs" stroke="#fff" stroke-width="0.15">/</tspan><tspan x="-567.44 -559.36">12</tspan><tspan x="-551.28" textLength="7.05" lengthAdjust="spacingAndGlyphs" stroke="#fff" stroke-width="0.15">/</tspan><tspan x="-543.21">4</tspan></text>
<text transform="translate(487.3 0) rotate(-90) scale(0.78 1)" y="0" text-anchor="middle" font-size="13.4" stroke="#000" stroke-width="0.3"><tspan x="-607.82 -599.74 -591.67 -583.59">2007</tspan><tspan x="-575.51" textLength="7.05" lengthAdjust="spacingAndGlyphs" stroke="#fff" stroke-width="0.15">/</tspan><tspan x="-567.44 -559.36">12</tspan><tspan x="-551.28" textLength="7.05" lengthAdjust="spacingAndGlyphs" stroke="#fff" stroke-width="0.15">/</tspan><tspan x="-543.21">6</tspan></text>
<text transform="translate(506.9 0) rotate(-90) scale(0.78 1)" y="0" text-anchor="middle" font-size="13.4" stroke="#000" stroke-width="0.3"><tspan x="-607.82 -599.74 -591.67 -583.59">2007</tspan><tspan x="-575.51" textLength="7.05" lengthAdjust="spacingAndGlyphs" stroke="#fff" stroke-width="0.15">/</tspan><tspan x="-567.44 -559.36">12</tspan><tspan x="-551.28" textLength="7.05" lengthAdjust="spacingAndGlyphs" stroke="#fff" stroke-width="0.15">/</tspan><tspan x="-543.21">8</tspan></text>
<text transform="translate(526.6 0) rotate(-90) scale(0.78 1)" y="0" text-anchor="middle" font-size="13.4" stroke="#000" stroke-width="0.3"><tspan x="-615.9 -607.82 -599.74 -591.67">2007</tspan><tspan x="-583.59" textLength="7.05" lengthAdjust="spacingAndGlyphs" stroke="#fff" stroke-width="0.15">/</tspan><tspan x="-575.51 -567.44">12</tspan><tspan x="-559.36" textLength="7.05" lengthAdjust="spacingAndGlyphs" stroke="#fff" stroke-width="0.15">/</tspan><tspan x="-551.28 -543.21">10</tspan></text>
<text transform="translate(546.2 0) rotate(-90) scale(0.78 1)" y="0" text-anchor="middle" font-size="13.4" stroke="#000" stroke-width="0.3"><tspan x="-615.9 -607.82 -599.74 -591.67">2007</tspan><tspan x="-583.59" textLength="7.05" lengthAdjust="spacingAndGlyphs" stroke="#fff" stroke-width="0.15">/</tspan><tspan x="-575.51 -567.44">12</tspan><tspan x="-559.36" textLength="7.05" lengthAdjust="spacingAndGlyphs" stroke="#fff" stroke-width="0.15">/</tspan><tspan x="-551.28 -543.21">12</tspan></text>
<text transform="translate(565.9 0) rotate(-90) scale(0.78 1)" y="0" text-anchor="middle" font-size="13.4" stroke="#000" stroke-width="0.3"><tspan x="-615.9 -607.82 -599.74 -591.67">2007</tspan><tspan x="-583.59" textLength="7.05" lengthAdjust="spacingAndGlyphs" stroke="#fff" stroke-width="0.15">/</tspan><tspan x="-575.51 -567.44">12</tspan><tspan x="-559.36" textLength="7.05" lengthAdjust="spacingAndGlyphs" stroke="#fff" stroke-width="0.15">/</tspan><tspan x="-551.28 -543.21">14</tspan></text>
<text transform="translate(585.5 0) rotate(-90) scale(0.78 1)" y="0" text-anchor="middle" font-size="13.4" stroke="#000" stroke-width="0.3"><tspan x="-615.9 -607.82 -599.74 -591.67">2007</tspan><tspan x="-583.59" textLength="7.05" lengthAdjust="spacingAndGlyphs" stroke="#fff" stroke-width="0.15">/</tspan><tspan x="-575.51 -567.44">12</tspan><tspan x="-559.36" textLength="7.05" lengthAdjust="spacingAndGlyphs" stroke="#fff" stroke-width="0.15">/</tspan><tspan x="-551.28 -543.21">16</tspan></text>
<text transform="translate(605.1 0) rotate(-90) scale(0.78 1)" y="0" text-anchor="middle" font-size="13.4" stroke="#000" stroke-width="0.3"><tspan x="-615.9 -607.82 -599.74 -591.67">2007</tspan><tspan x="-583.59" textLength="7.05" lengthAdjust="spacingAndGlyphs" stroke="#fff" stroke-width="0.15">/</tspan><tspan x="-575.51 -567.44">12</tspan><tspan x="-559.36" textLength="7.05" lengthAdjust="spacingAndGlyphs" stroke="#fff" stroke-width="0.15">/</tspan><tspan x="-551.28 -543.21">18</tspan></text>
<text transform="translate(624.8 0) rotate(-90) scale(0.78 1)" y="0" text-anchor="middle" font-size="13.4" stroke="#000" stroke-width="0.3"><tspan x="-615.9 -607.82 -599.74 -591.67">2007</tspan><tspan x="-583.59" textLength="7.05" lengthAdjust="spacingAndGlyphs" stroke="#fff" stroke-width="0.15">/</tspan><tspan x="-575.51 -567.44">12</tspan><tspan x="-559.36" textLength="7.05" lengthAdjust="spacingAndGlyphs" stroke="#fff" stroke-width="0.15">/</tspan><tspan x="-551.28 -543.21">20</tspan></text>
<text transform="translate(644.4 0) rotate(-90) scale(0.78 1)" y="0" text-anchor="middle" font-size="13.4" stroke="#000" stroke-width="0.3"><tspan x="-615.9 -607.82 -599.74 -591.67">2007</tspan><tspan x="-583.59" textLength="7.05" lengthAdjust="spacingAndGlyphs" stroke="#fff" stroke-width="0.15">/</tspan><tspan x="-575.51 -567.44">12</tspan><tspan x="-559.36" textLength="7.05" lengthAdjust="spacingAndGlyphs" stroke="#fff" stroke-width="0.15">/</tspan><tspan x="-551.28 -543.21">22</tspan></text>
<text transform="translate(664.0 0) rotate(-90) scale(0.78 1)" y="0" text-anchor="middle" font-size="13.4" stroke="#000" stroke-width="0.3"><tspan x="-615.9 -607.82 -599.74 -591.67">2007</tspan><tspan x="-583.59" textLength="7.05" lengthAdjust="spacingAndGlyphs" stroke="#fff" stroke-width="0.15">/</tspan><tspan x="-575.51 -567.44">12</tspan><tspan x="-559.36" textLength="7.05" lengthAdjust="spacingAndGlyphs" stroke="#fff" stroke-width="0.15">/</tspan><tspan x="-551.28 -543.21">24</tspan></text>
<text transform="translate(683.7 0) rotate(-90) scale(0.78 1)" y="0" text-anchor="middle" font-size="13.4" stroke="#000" stroke-width="0.3"><tspan x="-615.9 -607.82 -599.74 -591.67">2007</tspan><tspan x="-583.59" textLength="7.05" lengthAdjust="spacingAndGlyphs" stroke="#fff" stroke-width="0.15">/</tspan><tspan x="-575.51 -567.44">12</tspan><tspan x="-559.36" textLength="7.05" lengthAdjust="spacingAndGlyphs" stroke="#fff" stroke-width="0.15">/</tspan><tspan x="-551.28 -543.21">26</tspan></text>
<text transform="translate(703.3 0) rotate(-90) scale(0.78 1)" y="0" text-anchor="middle" font-size="13.4" stroke="#000" stroke-width="0.3"><tspan x="-615.9 -607.82 -599.74 -591.67">2007</tspan><tspan x="-583.59" textLength="7.05" lengthAdjust="spacingAndGlyphs" stroke="#fff" stroke-width="0.15">/</tspan><tspan x="-575.51 -567.44">12</tspan><tspan x="-559.36" textLength="7.05" lengthAdjust="spacingAndGlyphs" stroke="#fff" stroke-width="0.15">/</tspan><tspan x="-551.28 -543.21">28</tspan></text>
<text transform="translate(46.7 0) rotate(-90) scale(1.0 1)" y="0" text-anchor="middle" font-size="15.4" stroke="#fff" stroke-width="0.3"><tspan x="-957.9 -948.9 -939.9 -930.9">2007</tspan><tspan x="-921.9" textLength="7.2" lengthAdjust="spacingAndGlyphs" stroke="#fff" stroke-width="0.45">/</tspan><tspan x="-912.9">8</tspan><tspan x="-903.9" textLength="7.2" lengthAdjust="spacingAndGlyphs" stroke="#fff" stroke-width="0.45">/</tspan><tspan x="-894.9 -885.9">13</tspan></text>
<text transform="translate(65.8 0) rotate(-90) scale(1.0 1)" y="0" text-anchor="middle" font-size="15.4" stroke="#fff" stroke-width="0.3"><tspan x="-957.9 -948.9 -939.9 -930.9">2007</tspan><tspan x="-921.9" textLength="7.2" lengthAdjust="spacingAndGlyphs" stroke="#fff" stroke-width="0.45">/</tspan><tspan x="-912.9">8</tspan><tspan x="-903.9" textLength="7.2" lengthAdjust="spacingAndGlyphs" stroke="#fff" stroke-width="0.45">/</tspan><tspan x="-894.9 -885.9">17</tspan></text>
<text transform="translate(84.9 0) rotate(-90) scale(1.0 1)" y="0" text-anchor="middle" font-size="15.4" stroke="#fff" stroke-width="0.3"><tspan x="-957.9 -948.9 -939.9 -930.9">2007</tspan><tspan x="-921.9" textLength="7.2" lengthAdjust="spacingAndGlyphs" stroke="#fff" stroke-width="0.45">/</tspan><tspan x="-912.9">8</tspan><tspan x="-903.9" textLength="7.2" lengthAdjust="spacingAndGlyphs" stroke="#fff" stroke-width="0.45">/</tspan><tspan x="-894.9 -885.9">21</tspan></text>
<text transform="translate(104.1 0) rotate(-90) scale(1.0 1)" y="0" text-anchor="middle" font-size="15.4" stroke="#fff" stroke-width="0.3"><tspan x="-957.9 -948.9 -939.9 -930.9">2007</tspan><tspan x="-921.9" textLength="7.2" lengthAdjust="spacingAndGlyphs" stroke="#fff" stroke-width="0.45">/</tspan><tspan x="-912.9">8</tspan><tspan x="-903.9" textLength="7.2" lengthAdjust="spacingAndGlyphs" stroke="#fff" stroke-width="0.45">/</tspan><tspan x="-894.9 -885.9">25</tspan></text>
<text transform="translate(123.2 0) rotate(-90) scale(1.0 1)" y="0" text-anchor="middle" font-size="15.4" stroke="#fff" stroke-width="0.3"><tspan x="-957.9 -948.9 -939.9 -930.9">2007</tspan><tspan x="-921.9" textLength="7.2" lengthAdjust="spacingAndGlyphs" stroke="#fff" stroke-width="0.45">/</tspan><tspan x="-912.9">8</tspan><tspan x="-903.9" textLength="7.2" lengthAdjust="spacingAndGlyphs" stroke="#fff" stroke-width="0.45">/</tspan><tspan x="-894.9 -885.9">29</tspan></text>
<text transform="translate(142.3 0) rotate(-90) scale(1.0 1)" y="0" text-anchor="middle" font-size="15.4" stroke="#fff" stroke-width="0.3"><tspan x="-948.9 -939.9 -930.9 -921.9">2007</tspan><tspan x="-912.9" textLength="7.2" lengthAdjust="spacingAndGlyphs" stroke="#fff" stroke-width="0.45">/</tspan><tspan x="-903.9">9</tspan><tspan x="-894.9" textLength="7.2" lengthAdjust="spacingAndGlyphs" stroke="#fff" stroke-width="0.45">/</tspan><tspan x="-885.9">2</tspan></text>
<text transform="translate(161.4 0) rotate(-90) scale(1.0 1)" y="0" text-anchor="middle" font-size="15.4" stroke="#fff" stroke-width="0.3"><tspan x="-948.9 -939.9 -930.9 -921.9">2007</tspan><tspan x="-912.9" textLength="7.2" lengthAdjust="spacingAndGlyphs" stroke="#fff" stroke-width="0.45">/</tspan><tspan x="-903.9">9</tspan><tspan x="-894.9" textLength="7.2" lengthAdjust="spacingAndGlyphs" stroke="#fff" stroke-width="0.45">/</tspan><tspan x="-885.9">6</tspan></text>
<text transform="translate(180.6 0) rotate(-90) scale(1.0 1)" y="0" text-anchor="middle" font-size="15.4" stroke="#fff" stroke-width="0.3"><tspan x="-957.9 -948.9 -939.9 -930.9">2007</tspan><tspan x="-921.9" textLength="7.2" lengthAdjust="spacingAndGlyphs" stroke="#fff" stroke-width="0.45">/</tspan><tspan x="-912.9">9</tspan><tspan x="-903.9" textLength="7.2" lengthAdjust="spacingAndGlyphs" stroke="#fff" stroke-width="0.45">/</tspan><tspan x="-894.9 -885.9">10</tspan></text>
<text transform="translate(199.7 0) rotate(-90) scale(1.0 1)" y="0" text-anchor="middle" font-size="15.4" stroke="#fff" stroke-width="0.3"><tspan x="-957.9 -948.9 -939.9 -930.9">2007</tspan><tspan x="-921.9" textLength="7.2" lengthAdjust="spacingAndGlyphs" stroke="#fff" stroke-width="0.45">/</tspan><tspan x="-912.9">9</tspan><tspan x="-903.9" textLength="7.2" lengthAdjust="spacingAndGlyphs" stroke="#fff" stroke-width="0.45">/</tspan><tspan x="-894.9 -885.9">14</tspan></text>
<text transform="translate(218.8 0) rotate(-90) scale(1.0 1)" y="0" text-anchor="middle" font-size="15.4" stroke="#fff" stroke-width="0.3"><tspan x="-957.9 -948.9 -939.9 -930.9">2007</tspan><tspan x="-921.9" textLength="7.2" lengthAdjust="spacingAndGlyphs" stroke="#fff" stroke-width="0.45">/</tspan><tspan x="-912.9">9</tspan><tspan x="-903.9" textLength="7.2" lengthAdjust="spacingAndGlyphs" stroke="#fff" stroke-width="0.45">/</tspan><tspan x="-894.9 -885.9">18</tspan></text>
<text transform="translate(237.9 0) rotate(-90) scale(1.0 1)" y="0" text-anchor="middle" font-size="15.4" stroke="#fff" stroke-width="0.3"><tspan x="-957.9 -948.9 -939.9 -930.9">2007</tspan><tspan x="-921.9" textLength="7.2" lengthAdjust="spacingAndGlyphs" stroke="#fff" stroke-width="0.45">/</tspan><tspan x="-912.9">9</tspan><tspan x="-903.9" textLength="7.2" lengthAdjust="spacingAndGlyphs" stroke="#fff" stroke-width="0.45">/</tspan><tspan x="-894.9 -885.9">22</tspan></text>
<text transform="translate(257.1 0) rotate(-90) scale(1.0 1)" y="0" text-anchor="middle" font-size="15.4" stroke="#fff" stroke-width="0.3"><tspan x="-957.9 -948.9 -939.9 -930.9">2007</tspan><tspan x="-921.9" textLength="7.2" lengthAdjust="spacingAndGlyphs" stroke="#fff" stroke-width="0.45">/</tspan><tspan x="-912.9">9</tspan><tspan x="-903.9" textLength="7.2" lengthAdjust="spacingAndGlyphs" stroke="#fff" stroke-width="0.45">/</tspan><tspan x="-894.9 -885.9">26</tspan></text>
<text transform="translate(276.2 0) rotate(-90) scale(1.0 1)" y="0" text-anchor="middle" font-size="15.4" stroke="#fff" stroke-width="0.3"><tspan x="-957.9 -948.9 -939.9 -930.9">2007</tspan><tspan x="-921.9" textLength="7.2" lengthAdjust="spacingAndGlyphs" stroke="#fff" stroke-width="0.45">/</tspan><tspan x="-912.9">9</tspan><tspan x="-903.9" textLength="7.2" lengthAdjust="spacingAndGlyphs" stroke="#fff" stroke-width="0.45">/</tspan><tspan x="-894.9 -885.9">30</tspan></text>
<text transform="translate(295.3 0) rotate(-90) scale(1.0 1)" y="0" text-anchor="middle" font-size="15.4" stroke="#fff" stroke-width="0.3"><tspan x="-957.9 -948.9 -939.9 -930.9">2007</tspan><tspan x="-921.9" textLength="7.2" lengthAdjust="spacingAndGlyphs" stroke="#fff" stroke-width="0.45">/</tspan><tspan x="-912.9 -903.9">10</tspan><tspan x="-894.9" textLength="7.2" lengthAdjust="spacingAndGlyphs" stroke="#fff" stroke-width="0.45">/</tspan><tspan x="-885.9">4</tspan></text>
<text transform="translate(314.4 0) rotate(-90) scale(1.0 1)" y="0" text-anchor="middle" font-size="15.4" stroke="#fff" stroke-width="0.3"><tspan x="-957.9 -948.9 -939.9 -930.9">2007</tspan><tspan x="-921.9" textLength="7.2" lengthAdjust="spacingAndGlyphs" stroke="#fff" stroke-width="0.45">/</tspan><tspan x="-912.9 -903.9">10</tspan><tspan x="-894.9" textLength="7.2" lengthAdjust="spacingAndGlyphs" stroke="#fff" stroke-width="0.45">/</tspan><tspan x="-885.9">8</tspan></text>
<text transform="translate(333.6 0) rotate(-90) scale(1.0 1)" y="0" text-anchor="middle" font-size="15.4" stroke="#fff" stroke-width="0.3"><tspan x="-966.9 -957.9 -948.9 -939.9">2007</tspan><tspan x="-930.9" textLength="7.2" lengthAdjust="spacingAndGlyphs" stroke="#fff" stroke-width="0.45">/</tspan><tspan x="-921.9 -912.9">10</tspan><tspan x="-903.9" textLength="7.2" lengthAdjust="spacingAndGlyphs" stroke="#fff" stroke-width="0.45">/</tspan><tspan x="-894.9 -885.9">12</tspan></text>
<text transform="translate(352.7 0) rotate(-90) scale(1.0 1)" y="0" text-anchor="middle" font-size="15.4" stroke="#fff" stroke-width="0.3"><tspan x="-966.9 -957.9 -948.9 -939.9">2007</tspan><tspan x="-930.9" textLength="7.2" lengthAdjust="spacingAndGlyphs" stroke="#fff" stroke-width="0.45">/</tspan><tspan x="-921.9 -912.9">10</tspan><tspan x="-903.9" textLength="7.2" lengthAdjust="spacingAndGlyphs" stroke="#fff" stroke-width="0.45">/</tspan><tspan x="-894.9 -885.9">16</tspan></text>
<text transform="translate(371.8 0) rotate(-90) scale(1.0 1)" y="0" text-anchor="middle" font-size="15.4" stroke="#fff" stroke-width="0.3"><tspan x="-966.9 -957.9 -948.9 -939.9">2007</tspan><tspan x="-930.9" textLength="7.2" lengthAdjust="spacingAndGlyphs" stroke="#fff" stroke-width="0.45">/</tspan><tspan x="-921.9 -912.9">10</tspan><tspan x="-903.9" textLength="7.2" lengthAdjust="spacingAndGlyphs" stroke="#fff" stroke-width="0.45">/</tspan><tspan x="-894.9 -885.9">20</tspan></text>
<text transform="translate(390.9 0) rotate(-90) scale(1.0 1)" y="0" text-anchor="middle" font-size="15.4" stroke="#fff" stroke-width="0.3"><tspan x="-966.9 -957.9 -948.9 -939.9">2007</tspan><tspan x="-930.9" textLength="7.2" lengthAdjust="spacingAndGlyphs" stroke="#fff" stroke-width="0.45">/</tspan><tspan x="-921.9 -912.9">10</tspan><tspan x="-903.9" textLength="7.2" lengthAdjust="spacingAndGlyphs" stroke="#fff" stroke-width="0.45">/</tspan><tspan x="-894.9 -885.9">24</tspan></text>
<text transform="translate(410.0 0) rotate(-90) scale(1.0 1)" y="0" text-anchor="middle" font-size="15.4" stroke="#fff" stroke-width="0.3"><tspan x="-966.9 -957.9 -948.9 -939.9">2007</tspan><tspan x="-930.9" textLength="7.2" lengthAdjust="spacingAndGlyphs" stroke="#fff" stroke-width="0.45">/</tspan><tspan x="-921.9 -912.9">10</tspan><tspan x="-903.9" textLength="7.2" lengthAdjust="spacingAndGlyphs" stroke="#fff" stroke-width="0.45">/</tspan><tspan x="-894.9 -885.9">28</tspan></text>
<text transform="translate(429.2 0) rotate(-90) scale(1.0 1)" y="0" text-anchor="middle" font-size="15.4" stroke="#fff" stroke-width="0.3"><tspan x="-957.9 -948.9 -939.9 -930.9">2007</tspan><tspan x="-921.9" textLength="7.2" lengthAdjust="spacingAndGlyphs" stroke="#fff" stroke-width="0.45">/</tspan><tspan x="-912.9 -903.9">11</tspan><tspan x="-894.9" textLength="7.2" lengthAdjust="spacingAndGlyphs" stroke="#fff" stroke-width="0.45">/</tspan><tspan x="-885.9">1</tspan></text>
<text transform="translate(448.3 0) rotate(-90) scale(1.0 1)" y="0" text-anchor="middle" font-size="15.4" stroke="#fff" stroke-width="0.3"><tspan x="-957.9 -948.9 -939.9 -930.9">2007</tspan><tspan x="-921.9" textLength="7.2" lengthAdjust="spacingAndGlyphs" stroke="#fff" stroke-width="0.45">/</tspan><tspan x="-912.9 -903.9">11</tspan><tspan x="-894.9" textLength="7.2" lengthAdjust="spacingAndGlyphs" stroke="#fff" stroke-width="0.45">/</tspan><tspan x="-885.9">5</tspan></text>
<text transform="translate(467.4 0) rotate(-90) scale(1.0 1)" y="0" text-anchor="middle" font-size="15.4" stroke="#fff" stroke-width="0.3"><tspan x="-957.9 -948.9 -939.9 -930.9">2007</tspan><tspan x="-921.9" textLength="7.2" lengthAdjust="spacingAndGlyphs" stroke="#fff" stroke-width="0.45">/</tspan><tspan x="-912.9 -903.9">11</tspan><tspan x="-894.9" textLength="7.2" lengthAdjust="spacingAndGlyphs" stroke="#fff" stroke-width="0.45">/</tspan><tspan x="-885.9">9</tspan></text>
<text transform="translate(486.5 0) rotate(-90) scale(1.0 1)" y="0" text-anchor="middle" font-size="15.4" stroke="#fff" stroke-width="0.3"><tspan x="-966.9 -957.9 -948.9 -939.9">2007</tspan><tspan x="-930.9" textLength="7.2" lengthAdjust="spacingAndGlyphs" stroke="#fff" stroke-width="0.45">/</tspan><tspan x="-921.9 -912.9">11</tspan><tspan x="-903.9" textLength="7.2" lengthAdjust="spacingAndGlyphs" stroke="#fff" stroke-width="0.45">/</tspan><tspan x="-894.9 -885.9">13</tspan></text>
<text transform="translate(505.7 0) rotate(-90) scale(1.0 1)" y="0" text-anchor="middle" font-size="15.4" stroke="#fff" stroke-width="0.3"><tspan x="-966.9 -957.9 -948.9 -939.9">2007</tspan><tspan x="-930.9" textLength="7.2" lengthAdjust="spacingAndGlyphs" stroke="#fff" stroke-width="0.45">/</tspan><tspan x="-921.9 -912.9">11</tspan><tspan x="-903.9" textLength="7.2" lengthAdjust="spacingAndGlyphs" stroke="#fff" stroke-width="0.45">/</tspan><tspan x="-894.9 -885.9">17</tspan></text>
<text transform="translate(524.8 0) rotate(-90) scale(1.0 1)" y="0" text-anchor="middle" font-size="15.4" stroke="#fff" stroke-width="0.3"><tspan x="-966.9 -957.9 -948.9 -939.9">2007</tspan><tspan x="-930.9" textLength="7.2" lengthAdjust="spacingAndGlyphs" stroke="#fff" stroke-width="0.45">/</tspan><tspan x="-921.9 -912.9">11</tspan><tspan x="-903.9" textLength="7.2" lengthAdjust="spacingAndGlyphs" stroke="#fff" stroke-width="0.45">/</tspan><tspan x="-894.9 -885.9">21</tspan></text>
<text transform="translate(543.9 0) rotate(-90) scale(1.0 1)" y="0" text-anchor="middle" font-size="15.4" stroke="#fff" stroke-width="0.3"><tspan x="-966.9 -957.9 -948.9 -939.9">2007</tspan><tspan x="-930.9" textLength="7.2" lengthAdjust="spacingAndGlyphs" stroke="#fff" stroke-width="0.45">/</tspan><tspan x="-921.9 -912.9">11</tspan><tspan x="-903.9" textLength="7.2" lengthAdjust="spacingAndGlyphs" stroke="#fff" stroke-width="0.45">/</tspan><tspan x="-894.9 -885.9">25</tspan></text>
<text transform="translate(563.0 0) rotate(-90) scale(1.0 1)" y="0" text-anchor="middle" font-size="15.4" stroke="#fff" stroke-width="0.3"><tspan x="-966.9 -957.9 -948.9 -939.9">2007</tspan><tspan x="-930.9" textLength="7.2" lengthAdjust="spacingAndGlyphs" stroke="#fff" stroke-width="0.45">/</tspan><tspan x="-921.9 -912.9">11</tspan><tspan x="-903.9" textLength="7.2" lengthAdjust="spacingAndGlyphs" stroke="#fff" stroke-width="0.45">/</tspan><tspan x="-894.9 -885.9">29</tspan></text>
<text transform="translate(582.2 0) rotate(-90) scale(1.0 1)" y="0" text-anchor="middle" font-size="15.4" stroke="#fff" stroke-width="0.3"><tspan x="-957.9 -948.9 -939.9 -930.9">2007</tspan><tspan x="-921.9" textLength="7.2" lengthAdjust="spacingAndGlyphs" stroke="#fff" stroke-width="0.45">/</tspan><tspan x="-912.9 -903.9">12</tspan><tspan x="-894.9" textLength="7.2" lengthAdjust="spacingAndGlyphs" stroke="#fff" stroke-width="0.45">/</tspan><tspan x="-885.9">3</tspan></text>
<text transform="translate(601.3 0) rotate(-90) scale(1.0 1)" y="0" text-anchor="middle" font-size="15.4" stroke="#fff" stroke-width="0.3"><tspan x="-957.9 -948.9 -939.9 -930.9">2007</tspan><tspan x="-921.9" textLength="7.2" lengthAdjust="spacingAndGlyphs" stroke="#fff" stroke-width="0.45">/</tspan><tspan x="-912.9 -903.9">12</tspan><tspan x="-894.9" textLength="7.2" lengthAdjust="spacingAndGlyphs" stroke="#fff" stroke-width="0.45">/</tspan><tspan x="-885.9">7</tspan></text>
<text transform="translate(620.4 0) rotate(-90) scale(1.0 1)" y="0" text-anchor="middle" font-size="15.4" stroke="#fff" stroke-width="0.3"><tspan x="-966.9 -957.9 -948.9 -939.9">2007</tspan><tspan x="-930.9" textLength="7.2" lengthAdjust="spacingAndGlyphs" stroke="#fff" stroke-width="0.45">/</tspan><tspan x="-921.9 -912.9">12</tspan><tspan x="-903.9" textLength="7.2" lengthAdjust="spacingAndGlyphs" stroke="#fff" stroke-width="0.45">/</tspan><tspan x="-894.9 -885.9">11</tspan></text>
<text transform="translate(639.5 0) rotate(-90) scale(1.0 1)" y="0" text-anchor="middle" font-size="15.4" stroke="#fff" stroke-width="0.3"><tspan x="-966.9 -957.9 -948.9 -939.9">2007</tspan><tspan x="-930.9" textLength="7.2" lengthAdjust="spacingAndGlyphs" stroke="#fff" stroke-width="0.45">/</tspan><tspan x="-921.9 -912.9">12</tspan><tspan x="-903.9" textLength="7.2" lengthAdjust="spacingAndGlyphs" stroke="#fff" stroke-width="0.45">/</tspan><tspan x="-894.9 -885.9">15</tspan></text>
<text transform="translate(658.7 0) rotate(-90) scale(1.0 1)" y="0" text-anchor="middle" font-size="15.4" stroke="#fff" stroke-width="0.3"><tspan x="-966.9 -957.9 -948.9 -939.9">2007</tspan><tspan x="-930.9" textLength="7.2" lengthAdjust="spacingAndGlyphs" stroke="#fff" stroke-width="0.45">/</tspan><tspan x="-921.9 -912.9">12</tspan><tspan x="-903.9" textLength="7.2" lengthAdjust="spacingAndGlyphs" stroke="#fff" stroke-width="0.45">/</tspan><tspan x="-894.9 -885.9">19</tspan></text>
<text transform="translate(677.8 0) rotate(-90) scale(1.0 1)" y="0" text-anchor="middle" font-size="15.4" stroke="#fff" stroke-width="0.3"><tspan x="-966.9 -957.9 -948.9 -939.9">2007</tspan><tspan x="-930.9" textLength="7.2" lengthAdjust="spacingAndGlyphs" stroke="#fff" stroke-width="0.45">/</tspan><tspan x="-921.9 -912.9">12</tspan><tspan x="-903.9" textLength="7.2" lengthAdjust="spacingAndGlyphs" stroke="#fff" stroke-width="0.45">/</tspan><tspan x="-894.9 -885.9">23</tspan></text>
<text transform="translate(696.9 0) rotate(-90) scale(1.0 1)" y="0" text-anchor="middle" font-size="15.4" stroke="#fff" stroke-width="0.3"><tspan x="-966.9 -957.9 -948.9 -939.9">2007</tspan><tspan x="-930.9" textLength="7.2" lengthAdjust="spacingAndGlyphs" stroke="#fff" stroke-width="0.45">/</tspan><tspan x="-921.9 -912.9">12</tspan><tspan x="-903.9" textLength="7.2" lengthAdjust="spacingAndGlyphs" stroke="#fff" stroke-width="0.45">/</tspan><tspan x="-894.9 -885.9">27</tspan></text>
</g>
<text x="270.5" y="21" font-size="12.5" fill="#000" textLength="207" lengthAdjust="spacingAndGlyphs" style="font-family:'Liberation Sans','Noto Sans CJK JP',sans-serif">上証50ETFの取引値と基準価額の乖離</text>
<text x="226.5" y="513.5" font-size="17" fill="#000" textLength="264" lengthAdjust="spacingAndGlyphs" style="font-family:'Liberation Sans','Noto Sans CJK JP',sans-serif">金ETFの取引価格と基準価額の乖離</text>
</svg>
</body></html>
